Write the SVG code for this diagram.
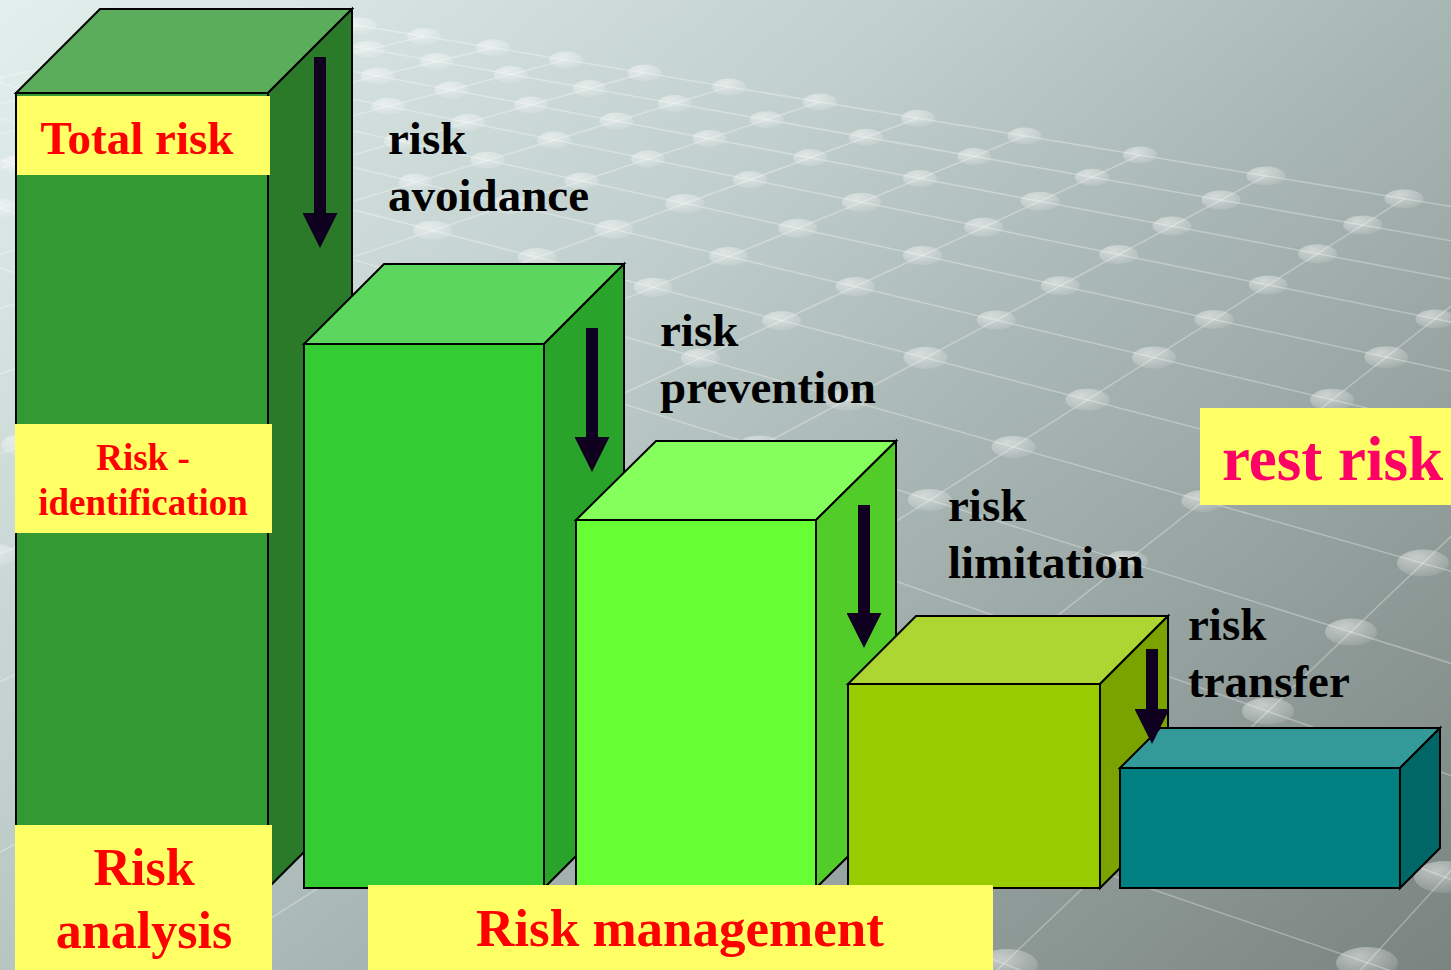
<svg xmlns="http://www.w3.org/2000/svg" xmlns:xlink="http://www.w3.org/1999/xlink" width="1451" height="970" viewBox="0 0 1451 970">
  <style>
    .gl line { stroke: #ffffff; stroke-opacity: 0.3; stroke-width: 1.5; }
    .face { stroke: #000; stroke-width: 2; stroke-linejoin: miter; }
    .tag { fill: #FFFF66; }
    .red { font-family: "Liberation Serif", "Times New Roman", serif; font-weight: bold; fill: #FF0000; text-anchor: middle; }
    .step { font-family: "Liberation Serif", "Times New Roman", serif; font-weight: bold; fill: #000; font-size: 47px; }
    .arrow { stroke: #100020; stroke-width: 12; fill: none; marker-end: url(#head); }
  </style>
  <defs>
    <linearGradient id="bg" gradientUnits="userSpaceOnUse" x1="0" y1="0" x2="1100" y2="1300">
      <stop offset="0" stop-color="#E2EFED"/>
      <stop offset="0.35" stop-color="#C2D0CD"/>
      <stop offset="0.55" stop-color="#A9B7B4"/>
      <stop offset="1" stop-color="#78827F"/>
    </linearGradient>
    <radialGradient id="dotg" cx="0.38" cy="0.3" r="0.8">
      <stop offset="0" stop-color="#ffffff" stop-opacity="0.5"/>
      <stop offset="1" stop-color="#ffffff" stop-opacity="0.06"/>
    </radialGradient>
    <ellipse id="d1" rx="17" ry="8.5" fill="url(#dotg)"/>
    <ellipse id="d2" rx="19.5" ry="9.5" fill="url(#dotg)"/>
    <ellipse id="d3" rx="22" ry="11" fill="url(#dotg)"/>
    <ellipse id="d4" rx="26" ry="13.5" fill="url(#dotg)"/>
    <ellipse id="d5" rx="31" ry="16" fill="url(#dotg)"/>
    <marker id="head" viewBox="0 0 35 35" refX="0" refY="17.5" markerWidth="35" markerHeight="35" markerUnits="userSpaceOnUse" orient="auto">
      <path d="M0,0 L35,17.5 L0,35 Z" fill="#100020"/>
    </marker>
  </defs>

  <!-- backdrop: shaded floor with a perspective lattice of studs -->
  <g id="backdrop">
    <rect x="0" y="0" width="1451" height="970" fill="url(#bg)"/>
    <g class="gl">
      <!-- lattice lines running toward the lower left -->
      <line x1="299.4" y1="15.7" x2="-174.3" y2="113.3"/>
      <line x1="359.8" y1="25.7" x2="-140.5" y2="134.4"/>
      <line x1="424.1" y1="36.4" x2="-157" y2="170"/>
      <line x1="492.8" y1="47.8" x2="-161.1" y2="207.7"/>
      <line x1="566.1" y1="59.9" x2="-151.9" y2="247.5"/>
      <line x1="644.7" y1="73" x2="-127.6" y2="289.9"/>
      <line x1="729.1" y1="86.9" x2="-86.9" y2="334.9"/>
      <line x1="820" y1="102" x2="-104.6" y2="408.6"/>
      <line x1="918.1" y1="118.3" x2="-91.9" y2="487.4"/>
      <line x1="1024.5" y1="135.9" x2="-111.5" y2="599.1"/>
      <line x1="1140" y1="155" x2="-81" y2="719"/>
      <line x1="1266" y1="175.9" x2="-157.5" y2="936.3"/>
      <line x1="1404" y1="198.8" x2="-127.2" y2="1171"/>
      <line x1="1555.8" y1="223.9" x2="557.8" y2="1008.5"/>
      <line x1="1600" y1="394" x2="950" y2="1015"/>
      <line x1="1700" y1="596" x2="1300" y2="1037"/>
      <!-- lattice lines running toward the lower right -->
      <line x1="299.4" y1="15.7" x2="1477" y2="210.9"/>
      <line x1="243.5" y1="27.2" x2="1496.4" y2="248.7"/>
      <line x1="184.5" y1="39.4" x2="1482.5" y2="284.9"/>
      <line x1="122.2" y1="52.2" x2="1486" y2="329.1"/>
      <line x1="56.2" y1="65.8" x2="1479.5" y2="377.6"/>
      <line x1="-13.9" y1="80.2" x2="1485.6" y2="436.2"/>
      <line x1="-1637" y1="-305" x2="1500.2" y2="506.5"/>
      <line x1="-1637" y1="-305" x2="1487.4" y2="581.5"/>
      <line x1="-1637" y1="-305" x2="1504.9" y2="680.3"/>
      <line x1="-1637" y1="-305" x2="1510.1" y2="796.1"/>
      <line x1="600" y1="556" x2="1500" y2="898"/>
      <line x1="600" y1="701" x2="1500" y2="1008"/>
      <line x1="600" y1="802" x2="1500" y2="1162"/>
    </g>
    <g id="studs">
      <use href="#d1" x="299.4" y="15.7"/>
      <use href="#d1" x="56.2" y="65.8"/>
      <use href="#d1" x="-13.9" y="80.2"/>
      <use href="#d1" x="359.8" y="25.7"/>
      <use href="#d1" x="424.1" y="36.4"/>
      <use href="#d1" x="368.2" y="49.3"/>
      <use href="#d1" x="492.8" y="47.8"/>
      <use href="#d1" x="436.9" y="61.4"/>
      <use href="#d1" x="377.7" y="75.9"/>
      <use href="#d1" x="566.1" y="59.9"/>
      <use href="#d1" x="510.6" y="74.4"/>
      <use href="#d1" x="451.5" y="89.9"/>
      <use href="#d1" x="388.5" y="106.3"/>
      <use href="#d1" x="644.7" y="73"/>
      <use href="#d1" x="589.7" y="88.4"/>
      <use href="#d1" x="531" y="104.9"/>
      <use href="#d1" x="468.2" y="122.5"/>
      <use href="#d1" x="401" y="141.3"/>
      <use href="#d1" x="729.1" y="86.9"/>
      <use href="#d1" x="674.8" y="103.4"/>
      <use href="#d1" x="616.7" y="121.1"/>
      <use href="#d1" x="554.4" y="140"/>
      <use href="#d1" x="487.6" y="160.3"/>
      <use href="#d1" x="415.6" y="182.2"/>
      <use href="#d1" x="820" y="102"/>
      <use href="#d1" x="766.6" y="119.7"/>
      <use href="#d1" x="709.5" y="138.6"/>
      <use href="#d1" x="648" y="159"/>
      <use href="#d1" x="581.8" y="180.9"/>
      <use href="#d2" x="510.3" y="204.6"/>
      <use href="#d2" x="432.8" y="230.3"/>
      <use href="#d1" x="918.1" y="118.3"/>
      <use href="#d1" x="866.1" y="137.3"/>
      <use href="#d1" x="810.2" y="157.7"/>
      <use href="#d1" x="749.9" y="179.7"/>
      <use href="#d2" x="684.8" y="203.5"/>
      <use href="#d2" x="614.1" y="229.3"/>
      <use href="#d2" x="537.3" y="257.4"/>
      <use href="#d1" x="1024.5" y="135.9"/>
      <use href="#d1" x="974.2" y="156.4"/>
      <use href="#d1" x="920" y="178.5"/>
      <use href="#d2" x="861.4" y="202.3"/>
      <use href="#d2" x="797.8" y="228.3"/>
      <use href="#d2" x="728.6" y="256.5"/>
      <use href="#d2" x="652.9" y="287.3"/>
      <use href="#d1" x="1140" y="155"/>
      <use href="#d1" x="1092" y="177.2"/>
      <use href="#d2" x="1040.1" y="201.2"/>
      <use href="#d2" x="983.7" y="227.2"/>
      <use href="#d2" x="922.3" y="255.5"/>
      <use href="#d2" x="855.2" y="286.5"/>
      <use href="#d2" x="781.5" y="320.6"/>
      <use href="#d2" x="700.3" y="358.1"/>
      <use href="#d2" x="1266" y="175.9"/>
      <use href="#d2" x="1221" y="200"/>
      <use href="#d2" x="1172" y="226.1"/>
      <use href="#d2" x="1118.6" y="254.6"/>
      <use href="#d2" x="1060.3" y="285.8"/>
      <use href="#d2" x="996.2" y="320"/>
      <use href="#d3" x="925.4" y="357.8"/>
      <use href="#d3" x="847" y="399.7"/>
      <use href="#d3" x="759.4" y="446.5"/>
      <use href="#d2" x="1404" y="198.8"/>
      <use href="#d2" x="1362.7" y="225"/>
      <use href="#d2" x="1317.6" y="253.7"/>
      <use href="#d2" x="1268.3" y="285"/>
      <use href="#d2" x="1214" y="319.4"/>
      <use href="#d3" x="1154.1" y="357.5"/>
      <use href="#d3" x="1087.5" y="399.7"/>
      <use href="#d3" x="1013.3" y="446.9"/>
      <use href="#d3" x="929.8" y="499.9"/>
      <use href="#d2" x="1435" y="318.9"/>
      <use href="#d3" x="1386.3" y="357.2"/>
      <use href="#d3" x="1332.1" y="399.7"/>
      <use href="#d3" x="1203.4" y="500.9"/>
      <use href="#d3" x="1126.2" y="561.5"/>
      <use href="#d4" x="1038" y="630.9"/>
      <use href="#d4" x="1423" y="563"/>
      <use href="#d4" x="1351" y="632"/>
      <use href="#d4" x="1268" y="711"/>
      <use href="#d5" x="1007" y="965"/>
      <use href="#d5" x="1445" y="877"/>
      <use href="#d5" x="1367" y="963"/>
      <use href="#d1" x="16.7" y="164.1"/>
      <use href="#d2" x="-0.9" y="208"/>
      <use href="#d3" x="23" y="445"/>
      <use href="#d3" x="-4.8" y="555"/>
    </g>
  </g>

  <!-- stepped blocks, tallest to shortest -->
  <g id="block-total">
    <polygon class="face" fill="#339933" points="16,93 268,93 268,888 16,888"/>
    <polygon class="face" fill="#5BAD5B" points="16,93 100,9 352,9 268,93"/>
    <polygon class="face" fill="#2A7A2A" points="268,93 352,9 352,804 268,888"/>
  </g>
  <g id="block-avoidance">
    <polygon class="face" fill="#33CC33" points="304,344 544,344 544,888 304,888"/>
    <polygon class="face" fill="#5CD65C" points="304,344 384,264 624,264 544,344"/>
    <polygon class="face" fill="#29A329" points="544,344 624,264 624,808 544,888"/>
  </g>
  <g id="block-prevention">
    <polygon class="face" fill="#66FF33" points="576,520 816,520 816,888 576,888"/>
    <polygon class="face" fill="#85FF5C" points="576,520 656,441 896,441 816,520"/>
    <polygon class="face" fill="#52CC29" points="816,520 896,441 896,809 816,888"/>
  </g>
  <g id="block-limitation">
    <polygon class="face" fill="#99CC00" points="848,684 1100,684 1100,888 848,888"/>
    <polygon class="face" fill="#ADD633" points="848,684 916,616 1168,616 1100,684"/>
    <polygon class="face" fill="#7AA300" points="1100,684 1168,616 1168,820 1100,888"/>
  </g>
  <g id="block-rest">
    <polygon class="face" fill="#008080" points="1120,768 1400,768 1400,888 1120,888"/>
    <polygon class="face" fill="#339999" points="1120,768 1160,728 1440,728 1400,768"/>
    <polygon class="face" fill="#006666" points="1400,768 1440,728 1440,848 1400,888"/>
  </g>

  <!-- reduction arrows -->
  <g id="arrows">
    <line class="arrow" x1="320" y1="57" x2="320" y2="213"/>
    <line class="arrow" x1="592" y1="328" x2="592" y2="437"/>
    <line class="arrow" x1="864" y1="505" x2="864" y2="613"/>
    <line class="arrow" x1="1152" y1="649" x2="1152" y2="709"/>
  </g>

  <!-- step captions -->
  <g id="step-avoidance">
    <text class="step" x="388" y="154">risk</text>
    <text class="step" x="388" y="211">avoidance</text>
  </g>
  <g id="step-prevention">
    <text class="step" x="660" y="346">risk</text>
    <text class="step" x="660" y="403">prevention</text>
  </g>
  <g id="step-limitation">
    <text class="step" x="948" y="521">risk</text>
    <text class="step" x="948" y="578">limitation</text>
  </g>
  <g id="step-transfer">
    <text class="step" x="1188" y="640">risk</text>
    <text class="step" x="1188" y="697">transfer</text>
  </g>

  <!-- yellow tags -->
  <g id="tag-total">
    <rect class="tag" x="17" y="96" width="253" height="79"/>
    <text class="red" x="137" y="154" font-size="47">Total risk</text>
  </g>
  <g id="tag-identification">
    <rect class="tag" x="15" y="424" width="257" height="109"/>
    <text class="red" x="143" y="470" font-size="37">Risk -</text>
    <text class="red" x="143" y="515" font-size="37">identification</text>
  </g>
  <g id="tag-analysis">
    <rect class="tag" x="15" y="825" width="257" height="145"/>
    <text class="red" x="144" y="885" font-size="52">Risk</text>
    <text class="red" x="144" y="948" font-size="52">analysis</text>
  </g>
  <g id="tag-management">
    <rect class="tag" x="368" y="885" width="625" height="85"/>
    <text class="red" x="680" y="946" font-size="53">Risk management</text>
  </g>
  <g id="tag-rest">
    <rect class="tag" x="1200" y="408" width="251" height="97"/>
    <text x="1222" y="480" font-family="Liberation Serif, Times New Roman, serif" font-weight="bold" font-size="63" fill="#FF0066">rest risk</text>
  </g>
</svg>
